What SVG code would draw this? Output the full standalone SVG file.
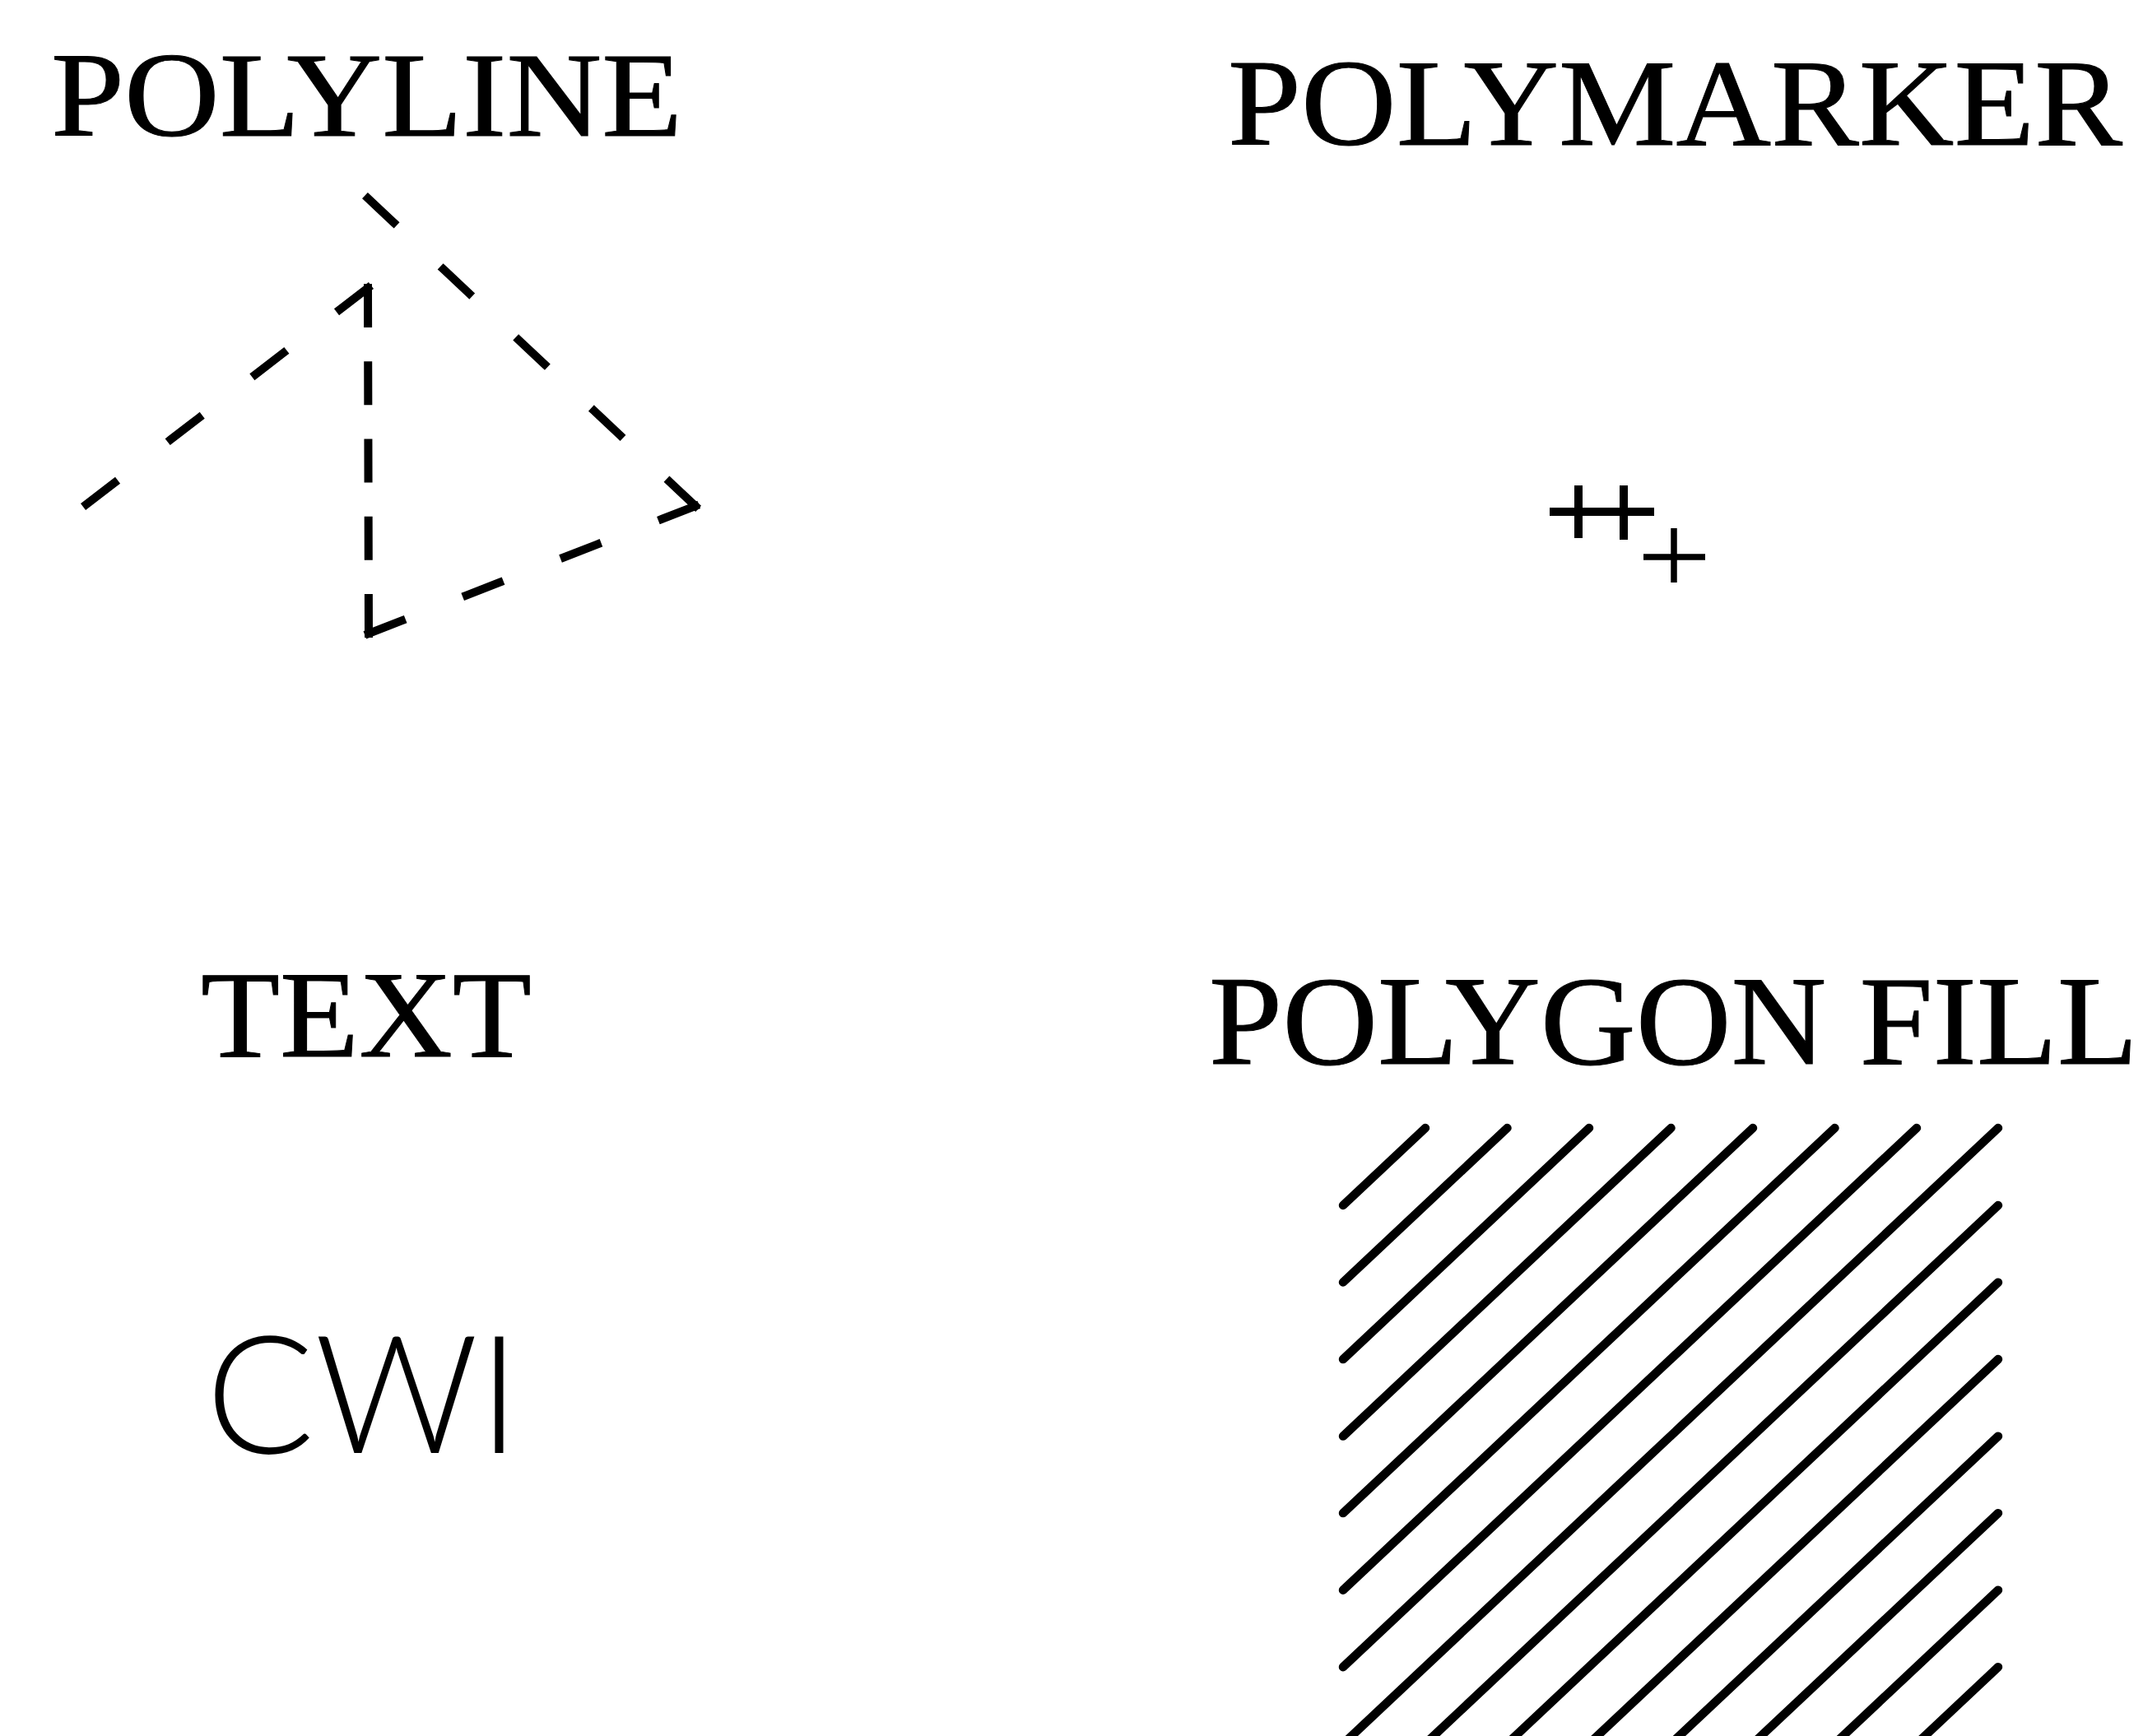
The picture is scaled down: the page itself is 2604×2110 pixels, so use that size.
<svg xmlns="http://www.w3.org/2000/svg" width="2604" height="2110" viewBox="0 0 2604 2110">
<style>
.title{font-family:"Liberation Serif","Times New Roman",serif;fill:#000;stroke:#000;stroke-width:1;}
.dash{stroke:#000;stroke-width:10;stroke-linecap:square;fill:none;}
.hatch{stroke:#000;stroke-width:10.5;stroke-linecap:round;fill:none;}
.mark{stroke:#000;fill:none;stroke-linecap:butt;}
.cwi{font-family:Lato,Inter,"Open Sans","Liberation Sans",sans-serif;font-weight:300;fill:#000;}
</style>
<rect width="2604" height="2110" fill="#fff"/>
<g id="polyline-panel">
<text class="title" x="62" y="165" font-size="146" textLength="767" lengthAdjust="spacingAndGlyphs">POLYLINE</text>
<line class="dash" x1="105" y1="613" x2="447" y2="350" stroke-dasharray="43 86.5"/>
<line class="dash" x1="447" y1="350" x2="448" y2="770" stroke-dasharray="43 51.25"/>
<line class="dash" x1="448" y1="770" x2="845" y2="615" stroke-dasharray="43 84.6"/>
<line class="dash" x1="845" y1="615" x2="447" y2="241" stroke-dasharray="43 82.75"/>
</g>
<g id="polymarker-panel">
<text class="title" x="1492" y="176" font-size="150" textLength="1087" lengthAdjust="spacingAndGlyphs">POLYMARKER</text>
<path class="mark" stroke-width="10" d="M1883 622H1953M1918 590V654"/>
<path class="mark" stroke-width="10" d="M1938 622H2010M1973 590V656"/>
<path class="mark" stroke-width="7.5" d="M1997 677H2072M2034 642V708"/>
</g>
<g id="text-panel">
<text class="title" x="244" y="1284" font-size="151" textLength="402" lengthAdjust="spacingAndGlyphs">TEXT</text>
<text class="cwi" x="250" y="1766" font-size="200" textLength="382" lengthAdjust="spacingAndGlyphs">CWI</text>
</g>
<g id="polygon-fill-panel">
<text class="title" x="1469" y="1293" font-size="155" textLength="1129" lengthAdjust="spacingAndGlyphs">POLYGON FILL</text>
<g id="hatch">
<line class="hatch" x1="1732" y1="1371" x2="1632" y2="1465"/>
<line class="hatch" x1="1831.5" y1="1371" x2="1632" y2="1558.5"/>
<line class="hatch" x1="1931" y1="1371" x2="1632" y2="1652.1"/>
<line class="hatch" x1="2030.5" y1="1371" x2="1632" y2="1745.6"/>
<line class="hatch" x1="2130" y1="1371" x2="1632" y2="1839.1"/>
<line class="hatch" x1="2229.5" y1="1371" x2="1632" y2="1932.7"/>
<line class="hatch" x1="2329" y1="1371" x2="1632" y2="2026.2"/>
<line class="hatch" x1="2428" y1="1371" x2="1632" y2="2119.7"/>
<line class="hatch" x1="2428" y1="1465" x2="1699.3" y2="2150"/>
<line class="hatch" x1="2428" y1="1558.7" x2="1798.8" y2="2150"/>
<line class="hatch" x1="2428" y1="1652.1" x2="1898.3" y2="2150"/>
<line class="hatch" x1="2428" y1="1745.7" x2="1997.8" y2="2150"/>
<line class="hatch" x1="2428" y1="1839.2" x2="2097.3" y2="2150"/>
<line class="hatch" x1="2428" y1="1932.7" x2="2196.8" y2="2150"/>
<line class="hatch" x1="2428" y1="2026.2" x2="2296.3" y2="2150"/>
</g>
</g>
</svg>
